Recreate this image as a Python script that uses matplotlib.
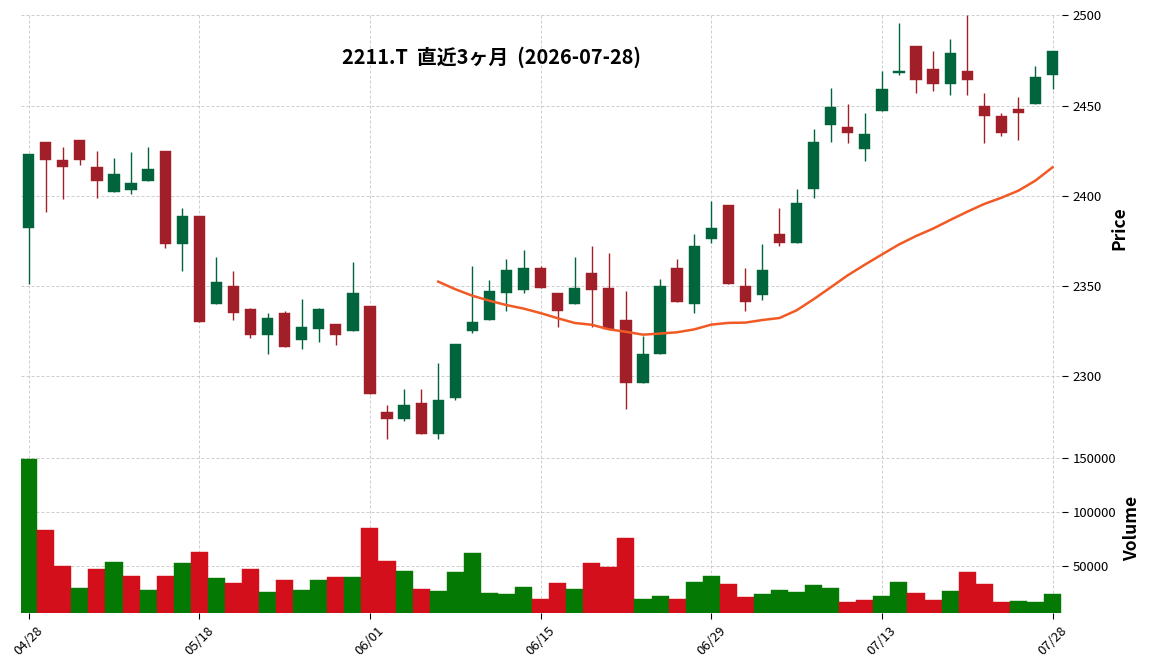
import numpy as np
import pandas as pd
import matplotlib
matplotlib.use('Agg')
import matplotlib.pyplot as plt

plt.rcParams['font.family'] = ['Noto Sans CJK JP', 'DejaVu Sans']

# 2211.T 日足 (直近3ヶ月)
opens = [2382, 2430, 2420, 2431, 2416, 2402, 2403, 2408, 2425, 2373,
         2389, 2340, 2350, 2337, 2323, 2335, 2320, 2326, 2329, 2325,
         2339, 2280, 2276, 2285, 2268, 2288, 2325, 2331, 2346, 2348,
         2360, 2346, 2340, 2357, 2349, 2331, 2296, 2312, 2360, 2340,
         2376, 2395, 2350, 2345, 2379, 2374, 2404, 2439, 2438, 2426,
         2447, 2468, 2483, 2470, 2462, 2469, 2450, 2444, 2448, 2451,
         2467]
highs = [2423, 2430, 2427, 2431, 2425, 2421, 2424, 2427, 2425, 2393,
         2389, 2366, 2358, 2338, 2335, 2336, 2343, 2338, 2329, 2363,
         2339, 2284, 2293, 2293, 2307, 2318, 2361, 2353, 2365, 2370,
         2361, 2346, 2366, 2372, 2368, 2347, 2322, 2354, 2365, 2379,
         2397, 2395, 2360, 2373, 2393, 2404, 2437, 2460, 2451, 2446,
         2469, 2496, 2483, 2480, 2487, 2500, 2457, 2446, 2455, 2472,
         2480]
lows = [2351, 2391, 2398, 2417, 2399, 2402, 2401, 2408, 2371, 2358,
        2330, 2340, 2331, 2321, 2312, 2316, 2315, 2319, 2317, 2325,
        2290, 2265, 2275, 2268, 2265, 2287, 2324, 2331, 2336, 2346,
        2349, 2327, 2340, 2327, 2326, 2282, 2296, 2312, 2341, 2335,
        2374, 2351, 2336, 2342, 2372, 2374, 2399, 2430, 2429, 2419,
        2447, 2467, 2457, 2458, 2456, 2456, 2429, 2433, 2431, 2451,
        2459]
closes = [2423, 2420, 2416, 2420, 2408, 2412, 2407, 2415, 2373, 2389,
          2330, 2352, 2335, 2323, 2332, 2316, 2327, 2337, 2323, 2346,
          2290, 2276, 2284, 2268, 2287, 2318, 2330, 2347, 2359, 2360,
          2349, 2336, 2349, 2348, 2326, 2296, 2312, 2350, 2341, 2372,
          2382, 2351, 2341, 2359, 2374, 2396, 2430, 2449, 2435, 2434,
          2459, 2469, 2464, 2462, 2479, 2464, 2444, 2435, 2446, 2466,
          2480]
volumes = [149400, 83600, 50300, 29900, 47500, 54000, 41000, 28100, 41000, 53100,
           63300, 39200, 34600, 47500, 26200, 37400, 28100, 37400, 40100, 40100,
           85500, 54900, 45700, 29000, 27200, 44800, 62300, 25300, 24400, 30900,
           19800, 34600, 29000, 53100, 49400, 76200, 19800, 22500, 19800, 35500,
           41000, 33600, 21600, 24400, 28100, 26200, 32700, 29900, 17000, 18800,
           22500, 35500, 25300, 18800, 27200, 44800, 33600, 17000, 17900, 17000,
           24400]

holidays = ['2026-04-29', '2026-05-04', '2026-05-05', '2026-05-06', '2026-07-20']
tick_labels = ['04/28', '05/18', '06/01', '06/15', '06/29', '07/13', '07/28']
title = '2211.T  直近3ヶ月  (2026-07-28)'

dates = pd.bdate_range('2026-04-28', '2026-07-28')
dates = dates[~dates.isin(pd.to_datetime(holidays))]
labels = list(dates.strftime('%m/%d'))
tick_pos = [labels.index(t) for t in tick_labels]

o = np.array(opens, float)
h = np.array(highs, float)
l = np.array(lows, float)
c = np.array(closes, float)
v = np.array(volumes, float)
x = np.arange(len(c))

up_col, dn_col = '#00643c', '#a01f28'
vup_col, vdn_col = '#047a04', '#d30f1b'

candle_cols = np.where(c >= o, up_col, dn_col)
prev = np.r_[c[0], c[:-1]]
vol_cols = np.where(c >= prev, vup_col, vdn_col)
ma25 = pd.Series(c).rolling(25).mean()

fig = plt.figure(figsize=(11.52, 6.71), dpi=100)
ax = fig.add_axes([0.0182, 0.3401, 0.9036, 0.641])
axv = fig.add_axes([0.0182, 0.0857, 0.9036, 0.2544], sharex=ax)

# ローソク足
ax.vlines(x, l, h, colors=candle_cols, lw=1.0, zorder=2)
ax.bar(x, np.maximum(np.abs(c - o), 0.4), bottom=np.minimum(o, c), width=0.66,
       color=candle_cols, edgecolor=candle_cols, lw=0.3, zorder=3)
ax.plot(x, ma25, color='#f15a24', lw=1.8, zorder=4)

# 出来高
axv.bar(x, v, width=1.0, color=vol_cols, edgecolor=vol_cols, lw=0.3)

ax.set_xlim(-0.45, len(c) - 0.45)
ax.set_ylim(2263, 2501.5)
axv.set_ylim(6200, 164300)

for a in (ax, axv):
    for s in a.spines.values():
        s.set_visible(False)
    a.grid(True, color='#c4c4c4', ls=(0, (3.5, 2.5)), lw=0.6)
    a.set_axisbelow(True)
    a.yaxis.tick_right()
    a.yaxis.set_label_position('right')
    a.tick_params(axis='y', labelsize=9.5, length=4, width=0.8)

ax.set_yticks([2300, 2350, 2400, 2450, 2500])
ax.tick_params(axis='x', labelbottom=False, length=0)
axv.set_yticks([50000, 100000, 150000])
axv.set_xticks(tick_pos)
axv.set_xticklabels(tick_labels, rotation=45, fontsize=9.5)
axv.tick_params(axis='x', length=4, width=0.8)

ax.set_ylabel('Price', fontsize=12.5, fontweight='bold', labelpad=6)
axv.set_ylabel('Volume', fontsize=12.5, fontweight='bold', labelpad=5)

fig.text(491 / 1152, 1 - 57 / 671, title, ha='center', va='center',
         fontsize=14.3, fontweight='bold')

fig.savefig('out.png', dpi=100)
